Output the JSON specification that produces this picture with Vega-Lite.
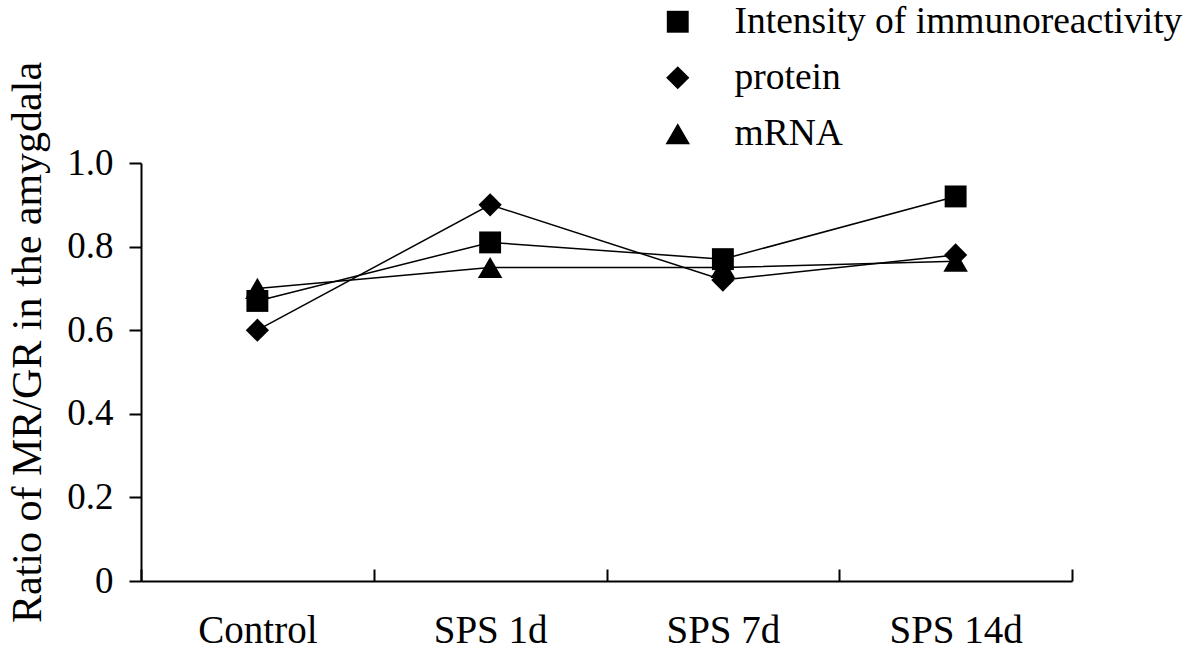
{
  "$schema": "https://vega.github.io/schema/vega-lite/v6.json",
  "width": 931,
  "height": 418,
  "autosize": {"type": "none"},
  "padding": {"left": 141, "top": 163, "right": 128, "bottom": 70},
  "background": "white",
  "config": {
    "view": {"stroke": null},
    "font": "Liberation Serif",
    "axis": {"grid": false, "domainColor": "black", "tickColor": "black", "labelColor": "black", "titleColor": "black", "domainWidth": 2, "tickWidth": 2, "labelFont": "Liberation Serif", "titleFont": "Liberation Serif", "titleFontWeight": "normal"},
    "legend": {"labelFont": "Liberation Serif", "labelColor": "black"}
  },
  "data": {
    "values": [
      {"series": "Intensity of immunoreactivity", "group": "Control", "value": 0.67},
      {"series": "Intensity of immunoreactivity", "group": "SPS 1d", "value": 0.81},
      {"series": "Intensity of immunoreactivity", "group": "SPS 7d", "value": 0.77},
      {"series": "Intensity of immunoreactivity", "group": "SPS 14d", "value": 0.92},
      {"series": "protein", "group": "Control", "value": 0.60},
      {"series": "protein", "group": "SPS 1d", "value": 0.90},
      {"series": "protein", "group": "SPS 7d", "value": 0.72},
      {"series": "protein", "group": "SPS 14d", "value": 0.78},
      {"series": "mRNA", "group": "Control", "value": 0.70},
      {"series": "mRNA", "group": "SPS 1d", "value": 0.75},
      {"series": "mRNA", "group": "SPS 7d", "value": 0.75},
      {"series": "mRNA", "group": "SPS 14d", "value": 0.765}
    ]
  },
  "encoding": {
    "x": {
      "field": "group", "type": "nominal", "sort": ["Control", "SPS 1d", "SPS 7d", "SPS 14d"],
      "scale": {"type": "band", "paddingInner": 0, "paddingOuter": 0},
      "axis": {"title": null, "labelAngle": 0, "labelFontSize": 39, "tickBand": "extent", "tickSize": -12, "labelPadding": 42, "labelBaseline": "top"}
    },
    "y": {
      "field": "value", "type": "quantitative",
      "scale": {"domain": [0, 1], "nice": false, "zero": true},
      "axis": {"title": "Ratio of MR/GR in the amygdala", "titleFontSize": 42, "values": [0, 0.2, 0.4, 0.6, 0.8, 1.0], "labelExpr": "datum.value == 0 ? '0' : format(datum.value, '.1f')", "labelFontSize": 37, "tickSize": 12, "labelPadding": 16, "titleX": -114, "titleY": 179, "titleAngle": -90, "titleAlign": "center", "titleBaseline": "middle"}
    }
  },
  "layer": [
    {
      "mark": {"type": "line", "color": "black", "strokeWidth": 1.5},
      "encoding": {"detail": {"field": "series", "type": "nominal"}}
    },
    {
      "mark": {"type": "point", "filled": true, "color": "black", "opacity": 1},
      "encoding": {
        "shape": {
          "field": "series", "type": "nominal",
          "scale": {"domain": ["Intensity of immunoreactivity", "protein", "mRNA"], "range": ["square", "diamond", "triangle-up"]},
          "legend": {"title": null, "orient": "none", "legendX": 518, "legendY": -160, "labelFontSize": 37.5, "labelOffset": 38, "labelLimit": 800, "rowPadding": 17, "padding": 0, "symbolFillColor": "black", "symbolStrokeColor": "black"}
        },
        "size": {
          "field": "series", "type": "nominal",
          "scale": {"domain": ["Intensity of immunoreactivity", "protein", "mRNA"], "range": [480, 600, 620]},
          "legend": {"title": null, "orient": "none", "legendX": 518, "legendY": -160, "labelFontSize": 37.5, "labelOffset": 38, "labelLimit": 800, "rowPadding": 17, "padding": 0, "symbolFillColor": "black", "symbolStrokeColor": "black"}
        }
      }
    }
  ]
}
